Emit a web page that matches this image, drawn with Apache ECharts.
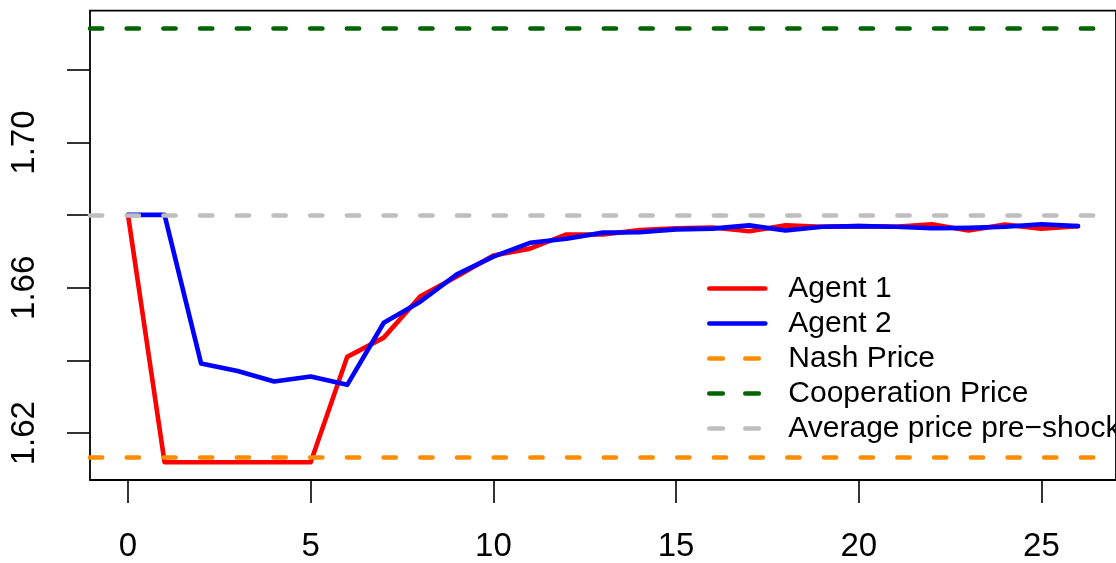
<!DOCTYPE html>
<html>
<head>
<meta charset="utf-8">
<title>Price response after a shock</title>
<script src="https://cdn.jsdelivr.net/npm/echarts@6/dist/echarts.min.js"></script>
<style>
  html, body { margin: 0; padding: 0; background: #ffffff; }
  #chart { width: 1116px; height: 563px; }
</style>
</head>
<body>
<div id="chart"></div>
<script>
// Periods after the shock
const periods = [0, 1, 2, 3, 4, 5, 6, 7, 8, 9, 10, 11, 12, 13, 14, 15, 16, 17, 18, 19, 20, 21, 22, 23, 24, 25, 26];

// Prices set by each agent
const agent1 = [1.6801, 1.6120, 1.6120, 1.6120, 1.6120, 1.6120, 1.6410, 1.6463, 1.6577, 1.6631, 1.6689, 1.6708, 1.6747, 1.6747, 1.6759, 1.6764, 1.6766, 1.6756, 1.6772, 1.6768, 1.6770, 1.6768, 1.6775, 1.6758, 1.6774, 1.6763, 1.6770];
const agent2 = [1.6801, 1.6801, 1.6392, 1.6371, 1.6342, 1.6356, 1.6333, 1.6504, 1.6562, 1.6637, 1.6686, 1.6724, 1.6735, 1.6752, 1.6753, 1.6761, 1.6763, 1.6772, 1.6758, 1.6768, 1.6770, 1.6768, 1.6764, 1.6765, 1.6768, 1.6775, 1.6770];

// Reference price levels
const nashPrice = 1.6135;
const cooperationPrice = 1.7315;
const preShockAverage = 1.6801;

// Axis ticks and labels
const xTicks = [0, 5, 10, 15, 20, 25];
const yTicks = [1.62, 1.64, 1.66, 1.68, 1.70, 1.72];
const yLabels = [1.62, 1.66, 1.70];

const FONT = '"Liberation Sans", Arial, Helvetica, sans-serif';
const LW = 4.6;
const DASH = [12.2, 24.5];

function pairs(xs, ys) {
  return xs.map((x, i) => [x, ys[i]]);
}

function levelSeries(name, color, value) {
  return {
    name: name,
    type: 'line',
    data: [],
    symbol: 'none',
    color: color,
    lineStyle: { color: color, width: LW, type: DASH, cap: 'round' },
    z: 5,
    markLine: {
      silent: true,
      precision: 6,
      symbol: ['none', 'none'],
      label: { show: false },
      animation: false,
      lineStyle: { color: color, width: LW, type: DASH, cap: 'round' },
      emphasis: { disabled: true },
      data: [{ yAxis: value }]
    }
  };
}

function legendEntry(name, color, dashed) {
  return {
    name: name,
    itemStyle: { opacity: 0 },
    lineStyle: { color: color, width: LW, type: dashed ? [13.5, 22.5] : 'solid', cap: 'round' }
  };
}

const chart = echarts.init(document.getElementById('chart'), null, { renderer: 'canvas' });

chart.setOption({
  animation: false,
  backgroundColor: '#ffffff',
  grid: {
    left: 90,
    top: 10.7,
    width: 1036,
    height: 470.3,
    show: true,
    borderColor: '#000000',
    borderWidth: 1.8,
    backgroundColor: 'transparent'
  },
  xAxis: {
    type: 'value',
    min: -1.04,
    max: 27.04,
    splitLine: { show: false },
    axisLine: { show: false, onZero: false },
    axisTick: {
      show: true,
      length: 23,
      lineStyle: { color: '#000000', width: 1.6 },
      customValues: xTicks
    },
    axisLabel: {
      show: true,
      margin: 50,
      color: '#000000',
      fontFamily: FONT,
      fontSize: 33,
      customValues: xTicks
    }
  },
  yAxis: {
    type: 'value',
    min: 1.6071,
    max: 1.7363,
    splitLine: { show: false },
    axisLine: { show: false, onZero: false },
    axisTick: {
      show: true,
      length: 23,
      lineStyle: { color: '#000000', width: 1.6 },
      customValues: yTicks
    },
    axisLabel: {
      show: true,
      rotate: 90,
      margin: 49,
      color: '#000000',
      fontFamily: FONT,
      fontSize: 33,
      customValues: yLabels,
      formatter: v => v.toFixed(2)
    }
  },
  legend: {
    orient: 'vertical',
    left: 707,
    top: 271,
    padding: 0,
    itemGap: 0,
    itemWidth: 56,
    itemHeight: 14,
    align: 'left',
    selectedMode: false,
    itemStyle: { opacity: 0 },
    lineStyle: { width: LW, cap: 'round' },
    textStyle: {
      color: '#000000',
      fontFamily: FONT,
      fontSize: 30,
      lineHeight: 35,
      padding: [0, 0, 0, 18]
    },
    data: [
      legendEntry('Agent 1', '#ff0000', false),
      legendEntry('Agent 2', '#0000ff', false),
      legendEntry('Nash Price', '#ff8c00', true),
      legendEntry('Cooperation Price', '#006400', true),
      legendEntry('Average price pre\u2212shock', '#bebebe', true)
    ]
  },
  series: [
    {
      name: 'Agent 1',
      type: 'line',
      data: pairs(periods, agent1),
      symbol: 'none',
      color: '#ff0000',
      lineStyle: { color: '#ff0000', width: LW, join: 'round', cap: 'round' },
      z: 2
    },
    {
      name: 'Agent 2',
      type: 'line',
      data: pairs(periods, agent2),
      symbol: 'none',
      color: '#0000ff',
      lineStyle: { color: '#0000ff', width: LW, join: 'round', cap: 'round' },
      z: 3
    },
    levelSeries('Nash Price', '#ff8c00', nashPrice),
    levelSeries('Cooperation Price', '#006400', cooperationPrice),
    levelSeries('Average price pre\u2212shock', '#bebebe', preShockAverage)
  ]
});
</script>
</body>
</html>
